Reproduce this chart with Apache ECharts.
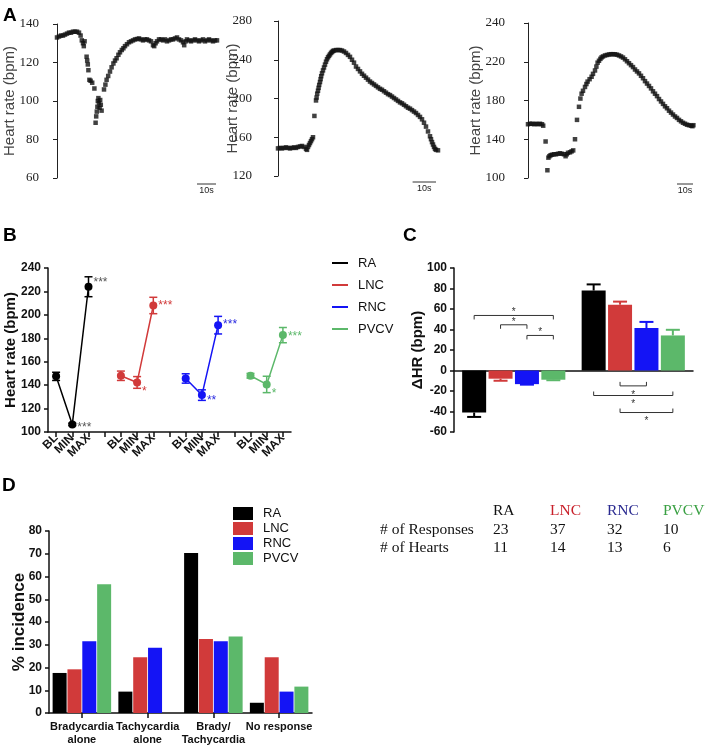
<!DOCTYPE html>
<html><head><meta charset="utf-8">
<script src="https://cdn.jsdelivr.net/npm/echarts@6/dist/echarts.min.js"></script>
<style>html,body{margin:0;padding:0;background:#fff}#c{width:705px;height:747px}</style>
</head><body><div id="c"></div>
<script>
// ---------------- DATA ----------------
// Panel A traces: [time (s), heart rate (bpm)]
const traceA1 = [[0,133],[1,133.5],[2,134],[3,134],[4,134.5],[5,135],[6,135.5],[7,135.5],[8,136],[9,136],[10,136],[11,135.5],[11.8,134],[12.4,131.5],[13,130],[13.4,128.5],[13.8,131],[14.8,123],[15.1,121],[15.4,119],[15.7,116],[16.2,111],[16.8,110.5],[17.6,109.5],[18.7,106.5],[19.3,88.7],[19.6,92],[19.9,94.5],[20.2,97],[20.4,100],[20.7,101.5],[21,99],[21.3,96.5],[21.6,100.5],[21.9,98],[22.3,95],[23.5,106],[24.2,108.5],[24.8,111],[25.6,113],[26.5,115.3],[27.3,117.5],[28.2,119.5],[29,121],[29.8,122.2],[30.7,124],[31.5,125.3],[32.4,126.5],[33.2,127.4],[34,128.5],[35,129.5],[36,130.5],[37,131],[38,131.5],[39,132],[40,132.2],[41,132.5],[42,132],[43,131.5],[44,132],[45,132],[46,131.5],[47,131],[48,129],[48.6,128.5],[49.3,130],[50,131],[51,132],[52,132],[53,131.5],[54,132],[55,131],[56,131.5],[57,132],[58,132],[59,132.5],[60,133],[61,132],[62,131.5],[63,130.5],[63.6,129],[64.3,131],[65,132],[66,131.5],[67,131],[68,131.5],[69,132],[70,131.5],[71,131],[72,131.5],[73,132],[74,131],[75,131.5],[76,132],[77,131.5],[78,131],[79,131.5],[80,131.5]];
const traceA2 = [[0,148.5],[1,149],[2,148.5],[3,149],[4,149.5],[5,149],[6,148.5],[7,149],[8,149.5],[9,149],[10,150],[11,150.5],[12,151],[13,150],[14,148],[14.5,147],[15,150],[15.5,152],[16,154],[16.5,156],[17,158],[17.5,160],[18.2,182],[19,198],[19.3,201],[19.6,205],[20,208],[20.3,211],[20.6,214],[21,217],[21.3,220],[21.6,223],[22,226],[22.5,229],[23,232],[23.5,235],[24,238],[24.5,240.5],[25,242.5],[25.5,244],[26,245.5],[26.5,247],[27,248],[27.5,249],[28,249.5],[29,250],[30,250],[31,250],[32,249.5],[33,248.5],[34,247],[35,245],[36,243],[37,240],[38,237],[39,233],[40,230.5],[41,228],[42,225.5],[43,223.5],[44,221.5],[45,219.5],[46,217.5],[47,216],[48,214.5],[49,213],[50,211.5],[51,210],[52,209],[53,207.5],[54,206],[55,204.5],[56,203.5],[57,202],[58,200.5],[59,199],[60,197.5],[61,196],[62,195],[63,193.5],[64,192],[65,190.5],[66,189.5],[67,188],[68,186.5],[69,185],[70,183],[71,181],[72,178.5],[73,175],[74,171],[75,166],[76,161],[76.5,158],[77,155],[77.5,152.5],[78,150],[78.5,148],[79,147],[80,146.5]];
const traceA3 = [[0,155.5],[1,156],[2,156],[3,155.5],[4,156],[5,155.5],[6,156],[7,155.5],[7.6,154],[8.8,137.7],[9.7,108],[10.2,121],[10.7,122.5],[11.3,123.5],[12,124],[13,124.5],[14,124.5],[15,125],[16,125.5],[17,125],[18,124.5],[18.8,122.5],[19.4,124.5],[20,126],[21,126.5],[21.8,127.5],[22.6,128.5],[23.5,140],[24.5,160],[25.5,173.5],[26.2,182],[26.8,187],[27.5,190],[28.5,194],[29.2,197],[29.8,199.5],[30.8,202],[31.8,204.5],[32.5,207.5],[33.5,211],[34.2,215],[34.8,219],[35.5,221],[36.2,223],[36.8,224.5],[37.5,225.5],[38.5,226.5],[39.5,227],[40.5,227.5],[41.5,227.8],[42.5,227.8],[43.5,227.7],[44.5,227.3],[45.5,226.5],[46.5,225.5],[47.5,224.3],[48.5,222.5],[49.5,220.5],[50.5,218.5],[51.5,216.5],[52.5,214.5],[53.5,212],[54.5,210],[55.5,208],[56.5,205.5],[57.5,203],[58.5,200],[59.5,197.5],[60.5,195],[61.5,192.5],[62.5,189.5],[63.5,187],[64.5,184.5],[65.5,181.5],[66.5,179],[67.5,176.5],[68.5,174],[69.5,172],[70.5,169.5],[71.5,167.5],[72.5,165.5],[73.5,163.5],[74.5,162],[75.5,160],[76.5,158.5],[77.5,157],[78.5,156],[79.5,155],[80.5,154.5],[81.5,154],[82.2,153.5],[82.7,154.5]];
// A3 tick labels as printed in the figure
const a3TickLabels = ['100','140','180','220','240'];
// 10 s scale bars (start, end in s)
const scaleA1 = [70, 79.5];
const scaleA2 = [67.3, 79];
const scaleA3 = [74.5, 82.5];

// Panel B
const groupNames = ['RA','LNC','RNC','PVCV'];
const bCategories = ['BL','MIN','MAX','','BL','MIN','MAX','','BL','MIN','MAX','','BL','MIN','MAX'];
const bRA = [147.5, 106.5, 224];
const bLNC = [148, 142.3, 208];
const bRNC = [145.7, 131.5, 191.2];
const bPVCV = [148, 140.6, 182.7];
const bRAerr = [3.5, 1, 8.5];
const bLNCerr = [4, 5, 7];
const bRNCerr = [4, 4.5, 7.5];
const bPVCVerr = [2, 7, 6.5];
const bRAstars = ['', '***', '***'];
const bLNCstars = ['', '*', '***'];
const bRNCstars = ['', '**', '***'];
const bPVCVstars = ['', '*', '***'];

// Panel C (ΔHR at MIN, MAX)
const cCategories = ['MIN','MAX'];
const cRA = [-41, 78];
const cLNC = [-8, 64.2];
const cRNC = [-13.3, 41.4];
const cPVCV = [-9, 34.2];
const cRAerr = [4.3, 6];
const cLNCerr = [2, 3];
const cRNCerr = [0.5, 6];
const cPVCVerr = [0.5, 5.5];
// significance brackets: [category, fromGroup, toGroup, level (bpm)]
const cBrackets = [[0,0,3,53.7],[0,1,2,44.6],[0,2,3,34.2],[1,1,2,-15],[1,0,3,-24.4],[1,1,3,-41]];

// Panel D (% incidence)
const dCategories = ['Bradycardia\nalone','Tachycardia\nalone','Brady/\nTachycardia','No response'];
const dRA = [17.6, 9.4, 70.3, 4.5];
const dLNC = [19.2, 24.5, 32.5, 24.5];
const dRNC = [31.5, 28.7, 31.5, 9.4];
const dPVCV = [56.6, 0, 33.6, 11.6];

// Table
const tableHeaders = ['RA','LNC','RNC','PVCV'];
const tableRowNames = ['# of Responses','# of Hearts'];
const tableResponses = [23, 37, 32, 10];
const tableHearts = [11, 14, 13, 6];

// ---------------- STYLE ----------------
const SANS = '"Liberation Sans", Arial, Helvetica, sans-serif';
const SERIF = '"Liberation Serif", "Times New Roman", serif';
const colors = ['#000000', '#d13a3a', '#1414f5', '#5cb86a'];
const starColors = ['#555555', '#d13a3a', '#2a2ae0', '#5cb86a'];
const tableColors = ['#111111', '#c8202a', '#2a2a90', '#3aa043'];
const starDy = [[0,3,-4],[0,9,0],[0,6,0],[0,9,2]];
const C_BAR_W = 24, C_SLOT = 24 * 1.1;

const bMeans = [bRA, bLNC, bRNC, bPVCV];
const bErrs = [bRAerr, bLNCerr, bRNCerr, bPVCVerr];
const bStars = [bRAstars, bLNCstars, bRNCstars, bPVCVstars];
const cVals = [cRA, cLNC, cRNC, cPVCV];
const cErrs = [cRAerr, cLNCerr, cRNCerr, cPVCVerr];
const dVals = [dRA, dLNC, dRNC, dPVCV];

const chart = echarts.init(document.getElementById('c'));

function aYAxis(grid, min, max, interval, gap, fmt){
  return {
    type:'value', gridIndex:grid, min:min, max:max, interval:interval,
    name:'Heart rate (bpm)', nameLocation:'middle', nameGap:gap, nameMoveOverlap:false,
    nameTextStyle:{fontFamily:SANS, fontSize:15, color:'#444'},
    axisLine:{show:true, lineStyle:{color:'#222', width:1}},
    axisTick:{show:true, length:4, lineStyle:{color:'#222'}},
    axisLabel:{fontFamily:SERIF, fontSize:13, color:'#222', margin:7, formatter: fmt},
    splitLine:{show:false}
  };
}
function aXAxis(grid, min, max){
  return {type:'value', gridIndex:grid, min:min, max:max, show:false, splitLine:{show:false}};
}
function scaleBarRender(params, api){
  const a = api.coord([api.value(0), api.value(2)]);
  const b = api.coord([api.value(1), api.value(2)]);
  const y = a[1] + 6;
  return {type:'group', children:[
    {type:'line', shape:{x1:a[0],y1:y,x2:b[0],y2:y}, style:{stroke:'#333', lineWidth:1}},
    {type:'text', style:{text:'10s', x:(a[0]+b[0])/2, y:y+2, align:'center', verticalAlign:'top', fill:'#222', font:'9px '+SANS}}
  ]};
}
function traceSeries(grid, data){
  return {type:'scatter', xAxisIndex:grid, yAxisIndex:grid, data:data, symbol:'rect', symbolSize:4.5,
    itemStyle:{color:'#111'}, silent:true};
}
function scaleSeries(grid, bar, ymin){
  return {type:'custom', xAxisIndex:grid, yAxisIndex:grid, data:[[bar[0], bar[1], ymin]],
    renderItem:scaleBarRender, silent:true};
}

const series = [
  traceSeries(0, traceA1), traceSeries(1, traceA2), traceSeries(2, traceA3),
  scaleSeries(0, scaleA1, 60), scaleSeries(1, scaleA2, 120), scaleSeries(2, scaleA3, 100)
];

// Panel B lines, error bars
groupNames.forEach((g, gi) => {
  series.push({
    type:'custom', name:'errB_'+g, xAxisIndex:3, yAxisIndex:3, z:2,
    data: bMeans[gi].map((v,k)=>[gi*4+k, v-bErrs[gi][k], v+bErrs[gi][k]]),
    renderItem: function(params, api){
      const lo = api.coord([api.value(0), api.value(1)]);
      const hi = api.coord([api.value(0), api.value(2)]);
      const w = 4, st = {stroke:colors[gi], lineWidth:1.5};
      return {type:'group', children:[
        {type:'line', shape:{x1:lo[0],y1:lo[1],x2:hi[0],y2:hi[1]}, style:st},
        {type:'line', shape:{x1:lo[0]-w,y1:lo[1],x2:lo[0]+w,y2:lo[1]}, style:st},
        {type:'line', shape:{x1:hi[0]-w,y1:hi[1],x2:hi[0]+w,y2:hi[1]}, style:st}
      ]};
    }
  });
  series.push({
    type:'line', name:g, xAxisIndex:3, yAxisIndex:3, z:3,
    symbol:'circle', symbolSize:8, showSymbol:true,
    itemStyle:{color:colors[gi]}, lineStyle:{color:colors[gi], width:1.5},
    data: bMeans[gi].map((v,k)=>({
      value:[gi*4+k, v],
      label:{show: bStars[gi][k] !== '', formatter: bStars[gi][k], position:'right', distance:1,
        offset:[0, starDy[gi][k]], color:starColors[gi], fontSize:12, fontFamily:SANS}
    }))
  });
});

// Panel C bars
groupNames.forEach((g, gi) => {
  series.push({type:'bar', name:g, xAxisIndex:4, yAxisIndex:4, data:cVals[gi],
    barWidth:C_BAR_W, barGap:'10%', itemStyle:{color:colors[gi]}, z:2});
});
const cErrData = [];
groupNames.forEach((g, gi) => cVals[gi].forEach((v,k)=>cErrData.push([k, gi, v, cErrs[gi][k]])));
series.push({
  type:'custom', name:'errC', xAxisIndex:4, yAxisIndex:4, z:3, data:cErrData,
  renderItem: function(params, api){
    const cat = api.value(0), gi = api.value(1), v = api.value(2), e = api.value(3);
    const base = api.coord([cat, v]);
    const end = api.coord([cat, v + (v >= 0 ? e : -e)]);
    const x = base[0] + (gi - 1.5) * C_SLOT;
    const st = {stroke:colors[gi], lineWidth:2};
    const hw = 7;
    return {type:'group', children:[
      {type:'line', shape:{x1:x,y1:base[1],x2:x,y2:end[1]}, style:st},
      {type:'line', shape:{x1:x-hw,y1:end[1],x2:x+hw,y2:end[1]}, style:st}
    ]};
  }
});
series.push({
  type:'custom', name:'brackets', xAxisIndex:4, yAxisIndex:4, z:4,
  data: cBrackets.map(b => [b[0], b[1], b[2], b[3]]),
  renderItem: function(params, api){
    const cat = api.value(0), g1 = api.value(1), g2 = api.value(2), lvl = api.value(3);
    const p = api.coord([cat, lvl]);
    const dir = lvl > 0 ? 1 : -1; // 1: ends point down, star above
    const x1 = p[0] + (g1 - 1.5) * C_SLOT, x2 = p[0] + (g2 - 1.5) * C_SLOT;
    const y = p[1], t = 4 * dir;
    return {type:'group', children:[
      {type:'polyline', shape:{points:[[x1,y+t],[x1,y],[x2,y],[x2,y+t]]}, style:{stroke:'#333', lineWidth:1, fill:null}},
      {type:'text', style:{text:'*', x:(x1+x2)/2, y: dir === 1 ? y-3 : y+9, align:'center', verticalAlign:'middle', fill:'#333', font:'10px '+SANS}}
    ]};
  }
});

// Panel D bars
groupNames.forEach((g, gi) => {
  series.push({type:'bar', name:g, xAxisIndex:5, yAxisIndex:5, data:dVals[gi],
    barWidth:14, barGap:'6%', itemStyle:{color:colors[gi]}});
});

// graphic: panel letters and table
const graphic = [
  {type:'text', left:3, top:6, style:{text:'A', font:'bold 19px '+SANS, fill:'#000'}},
  {type:'text', left:3, top:226, style:{text:'B', font:'bold 19px '+SANS, fill:'#000'}},
  {type:'text', left:403, top:226, style:{text:'C', font:'bold 19px '+SANS, fill:'#000'}},
  {type:'text', left:2, top:476, style:{text:'D', font:'bold 19px '+SANS, fill:'#000'}}
];
const tColX = [493, 550, 607, 663], tRowY = [511, 529.5, 548], tLabelX = 380;
tableHeaders.forEach((h,i)=>graphic.push({type:'text', x:tColX[i], y:tRowY[0],
  style:{text:h, font:'15.5px '+SERIF, fill:tableColors[i], verticalAlign:'middle'}}));
tableRowNames.forEach((r,i)=>graphic.push({type:'text', x:tLabelX, y:tRowY[i+1],
  style:{text:r, font:'15.5px '+SERIF, fill:'#111', verticalAlign:'middle'}}));
tableResponses.forEach((v,i)=>graphic.push({type:'text', x:tColX[i], y:tRowY[1],
  style:{text:String(v), font:'15.5px '+SERIF, fill:'#111', verticalAlign:'middle'}}));
tableHearts.forEach((v,i)=>graphic.push({type:'text', x:tColX[i], y:tRowY[2],
  style:{text:String(v), font:'15.5px '+SERIF, fill:'#111', verticalAlign:'middle'}}));

const boldAxisLabel = {fontFamily:SANS, fontWeight:'bold', fontSize:12, color:'#111', margin:7};
const blackLine = {show:true, lineStyle:{color:'#111', width:1.5}};

const option = {
  animation:false,
  backgroundColor:'#fff',
  grid:[
    {left:46, top:24, width:180, height:154},
    {left:259, top:21, width:190, height:155},
    {left:512, top:23, width:185, height:155},
    {left:48, top:268, width:243, height:164},
    {left:454, top:268, width:239, height:164},
    {left:49, top:531, width:263, height:182}
  ],
  xAxis:[
    aXAxis(0, -5.5, 84.5),
    aXAxis(1, -9.5, 85.5),
    aXAxis(2, -8, 84.5),
    {type:'category', gridIndex:3, data:bCategories, boundaryGap:true,
      axisLine:blackLine, axisTick:{show:true, alignWithLabel:true, interval:0, length:5, lineStyle:{color:'#111', width:1.5}},
      axisLabel:{interval:0, rotate:45, fontFamily:SANS, fontWeight:'bold', fontSize:12, color:'#111', margin:4}},
    {type:'category', gridIndex:4, data:cCategories, axisLine:{show:true, onZero:true, lineStyle:{color:'#111', width:1.5}},
      axisTick:{show:false}, axisLabel:{show:false}},
    {type:'category', gridIndex:5, data:dCategories, axisLine:blackLine,
      axisTick:{show:true, alignWithLabel:true, length:5, lineStyle:{color:'#111', width:1.5}},
      axisLabel:{interval:0, fontFamily:SANS, fontWeight:'bold', fontSize:11, lineHeight:13, color:'#111', margin:7}}
  ],
  yAxis:[
    aYAxis(0, 60, 140, 20, 29),
    aYAxis(1, 120, 280, 40, 19),
    aYAxis(2, 100, 260, 40, 29, v => a3TickLabels[Math.round((v-100)/40)]),
    {type:'value', gridIndex:3, min:100, max:240, interval:20, name:'Heart rate (bpm)', nameLocation:'middle', nameGap:30, nameMoveOverlap:false,
      nameTextStyle:{fontFamily:SANS, fontWeight:'bold', fontSize:15, color:'#111'},
      axisLine:blackLine, axisTick:{show:true, length:4, lineStyle:{color:'#111', width:1.5}},
      axisLabel:boldAxisLabel, splitLine:{show:false}},
    {type:'value', gridIndex:4, min:-60, max:100, interval:20, name:'ΔHR (bpm)', nameLocation:'middle', nameGap:29, nameMoveOverlap:false,
      nameTextStyle:{fontFamily:SANS, fontWeight:'bold', fontSize:15, color:'#111'},
      axisLine:blackLine, axisTick:{show:true, length:4, lineStyle:{color:'#111', width:1.5}},
      axisLabel:boldAxisLabel, splitLine:{show:false}},
    {type:'value', gridIndex:5, min:0, max:80, interval:10, name:'% incidence', nameLocation:'middle', nameGap:21, nameMoveOverlap:false,
      nameTextStyle:{fontFamily:SANS, fontWeight:'bold', fontSize:17, color:'#111'},
      axisLine:blackLine, axisTick:{show:true, length:4, lineStyle:{color:'#111', width:1.5}},
      axisLabel:boldAxisLabel, splitLine:{show:false}}
  ],
  legend:[
    {data:groupNames, left:327, top:251, orient:'vertical', icon:'rect', itemWidth:16, itemHeight:2, itemGap:8,
      textStyle:{fontFamily:SANS, fontSize:13, lineHeight:14, color:'#111', padding:[0,0,0,5]}, selectedMode:false},
    {data:groupNames, left:228, top:501, orient:'vertical', icon:'rect', itemWidth:20, itemHeight:13, itemGap:0,
      textStyle:{fontFamily:SANS, fontSize:13, lineHeight:15, color:'#111', padding:[0,0,0,5]}, selectedMode:false}
  ],
  graphic: graphic,
  series: series
};
chart.setOption(option);
</script>
</body></html>
